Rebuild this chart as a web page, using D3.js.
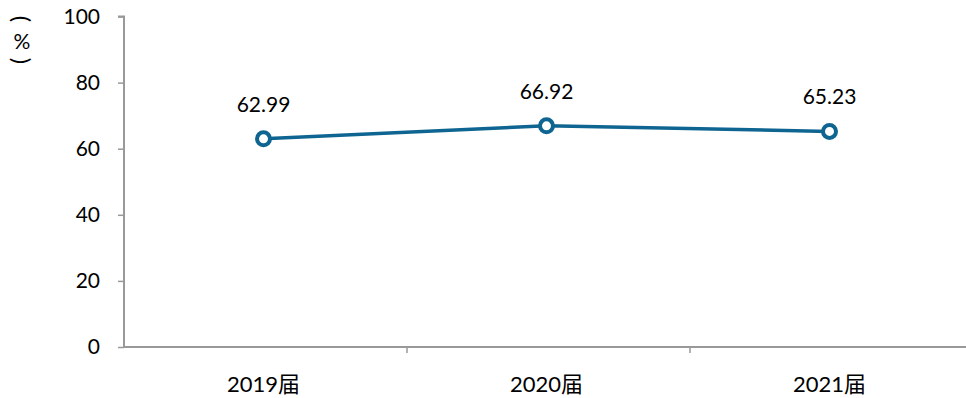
<!DOCTYPE html>
<html><head><meta charset="utf-8">
<script src="https://cdn.jsdelivr.net/npm/d3@7"></script>
<style>body{margin:0;background:#fff}svg{display:block}</style>
</head><body><svg id="c" width="966" height="398"></svg>
<script>
const categories = ["2019届","2020届","2021届"];
const values = [62.99, 66.92, 65.23];
const labels = ["62.99","66.92","65.23"];
const yTicks = [0,20,40,60,80,100];

(function(){
const svg = d3.select("#c");
const font = "Lato, 'Noto Sans CJK SC', sans-serif";
const mL = 124, mR = 973, mT = 16.5, mB = 347;
const x = d3.scaleBand().domain(categories).range([mL, mR]);
const y = d3.scaleLinear().domain([0,100]).range([mB, mT]);
const axisColor = "#999";

// y axis
const ya = svg.append("g").attr("transform", `translate(${mL},0)`)
  .call(d3.axisLeft(y).tickValues(yTicks).tickSize(6).tickPadding(18));
ya.select(".domain").attr("stroke", axisColor).attr("stroke-width", 2).attr("d", `M-6,${mT}H0V${mB}`);
ya.selectAll(".tick line").attr("stroke", axisColor).attr("stroke-width", 1.5);
ya.selectAll(".tick text").attr("font-family", font).attr("font-size", 21).attr("fill", "#000");

// x axis
const xa = svg.append("g").attr("transform", `translate(0,${mB})`);
xa.append("line").attr("x1", mL).attr("x2", mR).attr("stroke", axisColor).attr("stroke-width", 2);
const bounds = categories.slice(1).map(c => x(c));
xa.selectAll(".bt").data(bounds).enter().append("line")
  .attr("x1", d=>d).attr("x2", d=>d).attr("y1", 0).attr("y2", 6)
  .attr("stroke", axisColor).attr("stroke-width", 1.5);
xa.selectAll(".xl").data(categories).enter().append("text")
  .attr("x", d=> x(d) + x.bandwidth()/2 - 2).attr("y", 45)
  .attr("text-anchor", "middle").attr("font-family", font).attr("font-size", 22).attr("fill", "#000")
  .text(d=>d);

// unit label (vertical)
const u = svg.append("g").attr("font-family", "Lato, sans-serif").attr("font-size", 24).attr("fill", "#000");
u.append("text").attr("transform", "translate(22,19) rotate(90)").attr("text-anchor","middle").attr("dominant-baseline","central").text("(");
u.append("text").attr("x", 22).attr("y", 40).attr("text-anchor","middle").attr("dominant-baseline","central").attr("font-size", 21).text("%");
u.append("text").attr("transform", "translate(22,61) rotate(90)").attr("text-anchor","middle").attr("dominant-baseline","central").text(")");

// line
const cx = c => x(c) + x.bandwidth()/2 - 2;
const line = d3.line().x((d,i)=>cx(categories[i])).y(d=>y(d));
svg.append("path").datum(values).attr("d", line).attr("fill","none")
  .attr("stroke", "#0f6591").attr("stroke-width", 3.5);
svg.selectAll(".pt").data(values).enter().append("circle")
  .attr("cx", (d,i)=>cx(categories[i])).attr("cy", d=>y(d)).attr("r", 6.5)
  .attr("fill", "#fff").attr("stroke", "#0f6591").attr("stroke-width", 4);
svg.selectAll(".lb").data(values).enter().append("text")
  .attr("x", (d,i)=>cx(categories[i])).attr("y", d=>y(d) - 27)
  .attr("text-anchor","middle").attr("font-family", font).attr("font-size", 21).attr("fill","#000")
  .text((d,i)=>labels[i]);
})();
</script></body></html>
